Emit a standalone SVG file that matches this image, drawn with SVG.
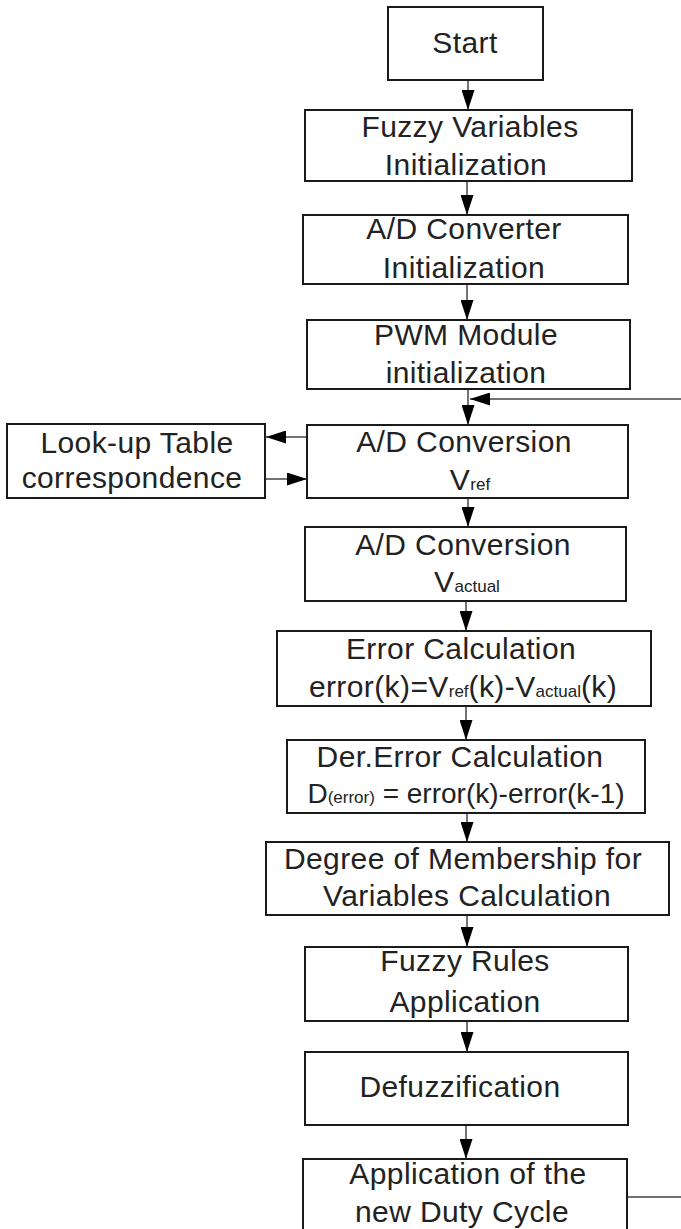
<svg xmlns="http://www.w3.org/2000/svg" width="681" height="1229" viewBox="0 0 681 1229">
  <style>
    .box { fill: #ffffff; stroke: #1a1a1a; stroke-width: 2; }
    .lbl { font-family: "Liberation Sans", Arial, sans-serif; font-size: 30px; fill: #222; text-anchor: middle; letter-spacing: 0.4px; }
    .sub { font-size: 17px; letter-spacing: 0; }
    .wire { fill: none; stroke: #444; stroke-width: 1.5; }
  </style>
  <defs>
    <marker id="head" markerUnits="userSpaceOnUse" markerWidth="20" markerHeight="13" refX="20" refY="6.5" orient="auto">
      <path d="M0,0 L20,6.5 L0,13 Z" fill="#000"/>
    </marker>
  </defs>
  <rect width="681" height="1229" fill="#ffffff"/>

  <g id="connectors">
    <line class="wire" x1="468" y1="80" x2="468" y2="110" marker-end="url(#head)"/>
    <line class="wire" x1="467" y1="181" x2="467" y2="215" marker-end="url(#head)"/>
    <line class="wire" x1="467" y1="284" x2="467" y2="320" marker-end="url(#head)"/>
    <line class="wire" x1="468" y1="389" x2="468" y2="425" marker-end="url(#head)"/>
    <line class="wire" x1="468" y1="498" x2="468" y2="527" marker-end="url(#head)"/>
    <line class="wire" x1="466" y1="601" x2="466" y2="631" marker-end="url(#head)"/>
    <line class="wire" x1="466" y1="706" x2="466" y2="740" marker-end="url(#head)"/>
    <line class="wire" x1="467" y1="813" x2="467" y2="842" marker-end="url(#head)"/>
    <line class="wire" x1="467" y1="915" x2="467" y2="947" marker-end="url(#head)"/>
    <line class="wire" x1="467" y1="1021" x2="467" y2="1052" marker-end="url(#head)"/>
    <line class="wire" x1="466" y1="1125" x2="466" y2="1159" marker-end="url(#head)"/>
    <!-- feedback loop back to the conversion step -->
    <path class="wire" d="M627,1197 H690 V399 H470" marker-end="url(#head)"/>
    <!-- look-up table exchange -->
    <line class="wire" x1="307" y1="437" x2="266" y2="437" marker-end="url(#head)"/>
    <line class="wire" x1="265" y1="479" x2="307" y2="479" marker-end="url(#head)"/>
  </g>

  <g id="start">
    <rect class="box" x="388" y="7" width="155" height="73"/>
    <text class="lbl" x="465" y="53">Start</text>
  </g>

  <g id="fuzzy-init">
    <rect class="box" x="305" y="110" width="327" height="71"/>
    <text class="lbl" x="470" y="137">Fuzzy Variables</text>
    <text class="lbl" x="466" y="175">Initialization</text>
  </g>

  <g id="adc-init">
    <rect class="box" x="303" y="215" width="325" height="69"/>
    <text class="lbl" x="464" y="239">A/D Converter</text>
    <text class="lbl" x="464" y="278">Initialization</text>
  </g>

  <g id="pwm-init">
    <rect class="box" x="307" y="320" width="323" height="69"/>
    <text class="lbl" x="466" y="345">PWM Module</text>
    <text class="lbl" x="466" y="383">initialization</text>
  </g>

  <g id="lookup">
    <rect class="box" x="7" y="424" width="258" height="74"/>
    <text class="lbl" x="137" y="453">Look-up Table</text>
    <text class="lbl" x="132" y="488">correspondence</text>
  </g>

  <g id="adc-vref">
    <rect class="box" x="307" y="425" width="321" height="73"/>
    <text class="lbl" x="464" y="452">A/D Conversion</text>
    <text class="lbl" x="470" y="490">V<tspan class="sub">ref</tspan></text>
  </g>

  <g id="adc-vactual">
    <rect class="box" x="305" y="527" width="321" height="74"/>
    <text class="lbl" x="463" y="555">A/D Conversion</text>
    <text class="lbl" x="467" y="592">V<tspan class="sub">actual</tspan></text>
  </g>

  <g id="error-calc">
    <rect class="box" x="277" y="631" width="374" height="75"/>
    <text class="lbl" x="461" y="659">Error Calculation</text>
    <text class="lbl" x="463" y="697">error(k)=V<tspan class="sub">ref</tspan>(k)-V<tspan class="sub">actual</tspan>(k)</text>
  </g>

  <g id="der-error-calc">
    <rect class="box" x="287" y="740" width="358" height="73"/>
    <text class="lbl" x="460" y="767">Der.Error Calculation</text>
    <text class="lbl" x="466" y="803" style="font-size:28px;letter-spacing:0">D<tspan class="sub">(error)</tspan> = error(k)-error(k-1)</text>
  </g>

  <g id="membership">
    <rect class="box" x="266" y="842" width="403" height="73"/>
    <text class="lbl" x="463" y="869">Degree of Membership for</text>
    <text class="lbl" x="467" y="906">Variables Calculation</text>
  </g>

  <g id="rules">
    <rect class="box" x="305" y="947" width="323" height="74"/>
    <text class="lbl" x="465" y="971">Fuzzy Rules</text>
    <text class="lbl" x="465" y="1012">Application</text>
  </g>

  <g id="defuzz">
    <rect class="box" x="305" y="1052" width="323" height="73"/>
    <text class="lbl" x="460" y="1097">Defuzzification</text>
  </g>

  <g id="duty-cycle">
    <rect class="box" x="303" y="1159" width="324" height="80"/>
    <text class="lbl" x="468" y="1184">Application of the</text>
    <text class="lbl" x="462" y="1222">new Duty Cycle</text>
  </g>
</svg>
